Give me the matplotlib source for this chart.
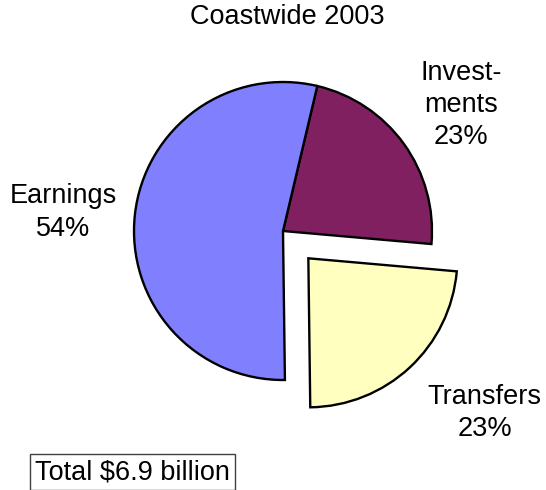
import matplotlib
matplotlib.use("Agg")
import matplotlib.pyplot as plt

plt.rcParams['font.family'] = ['Liberation Sans', 'DejaVu Sans']

# ==========================================
# data
# ==========================================
title = "Coastwide 2003"
categories = [["Invest-", "ments"], ["Transfers"], ["Earnings"]]
shares = [22.7, 23.4, 53.9]          # percent of total
colors = ["#802060", "#FFFFC0", "#8080FF"]
explode = [0.0, 0.25, 0.0]
total_note = "Total $6.9 billion"

# first-line baseline of each label, in pixels (x centre, y from top)
label_px = [(461, 79.5), (484.5, 403.5), (63, 203)]
LINE_STEP = 32.5

W, H = 546, 490
CX, CY, R = 283, 231, 149   # pie centre / radius in pixels
FS = 19.5

fig = plt.figure(figsize=(W / 100, H / 100), dpi=100)
ax = fig.add_axes([0, 0, 1, 1])

ax.pie(shares, colors=colors, explode=explode, startangle=76.7,
       counterclock=False, radius=1.0,
       wedgeprops=dict(edgecolor="black", linewidth=1.7))

ax.set_xlim(-CX / R, (W - CX) / R)
ax.set_ylim(-(H - CY) / R, CY / R)
ax.set_aspect("equal")
ax.axis("off")

# labels, one line at a time so the spacing matches
for lines, val, (px, py) in zip(categories, shares, label_px):
    for i, line in enumerate(lines + [f"{val:.0f}%"]):
        fig.text(px / W, 1 - (py + i * LINE_STEP) / H, line,
                 ha="center", va="baseline", fontsize=FS)

fig.text(287 / W, 1 - 24 / H, title, ha="center", va="baseline", fontsize=FS)

fig.text(35 / W, 1 - 479 / H, total_note, ha="left", va="baseline", fontsize=FS,
         bbox=dict(boxstyle="square,pad=0.2", facecolor="white", edgecolor="#404040",
                   linewidth=1.0))

fig.savefig("out.png", dpi=100)
